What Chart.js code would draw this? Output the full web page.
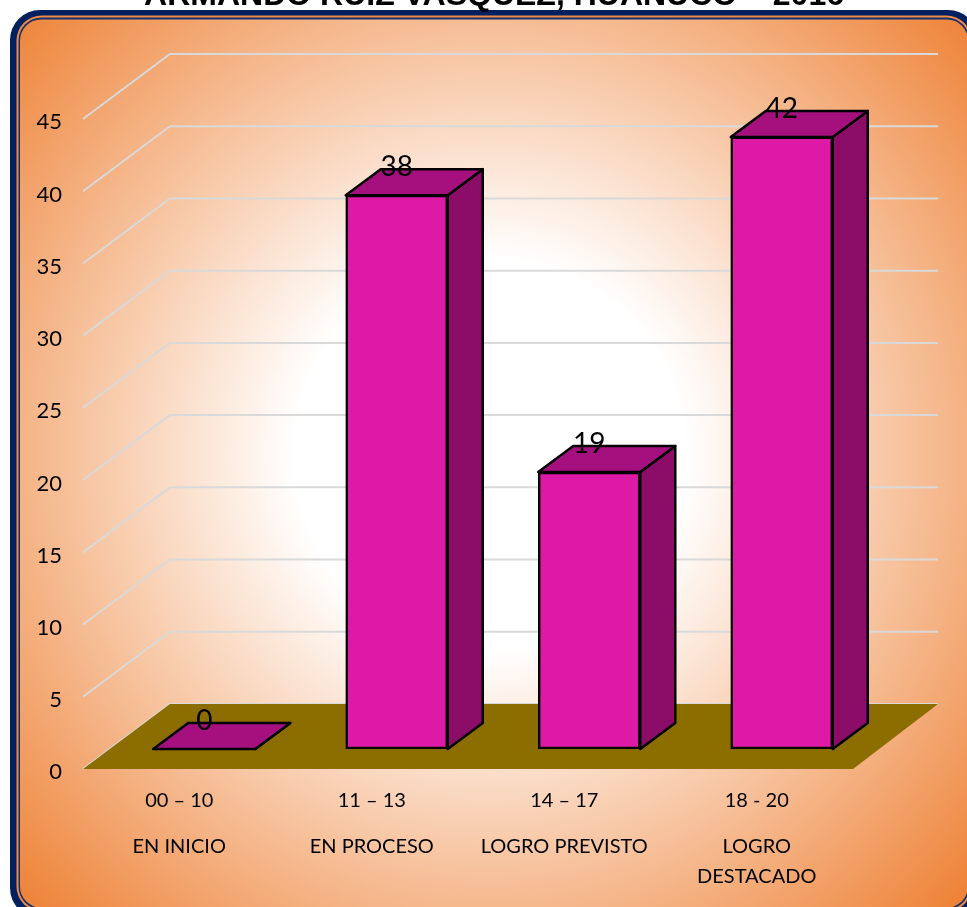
<!DOCTYPE html>
<html lang="es">
<head>
<meta charset="utf-8">
<title>Chart</title>
<script src="https://cdn.jsdelivr.net/npm/chart.js@4/dist/chart.umd.min.js"></script>
<style>
  html, body { margin: 0; padding: 0; background: #fff; overflow: hidden; }
  canvas { display: block; }
</style>
</head>
<body>
<canvas id="chart" width="967" height="907"></canvas>
<script>
const titleText = 'ARMANDO RUIZ VASQUEZ, HUANUCO – 2016';
const rangeLabels = ['00 – 10', '11 – 13', '14 – 17', '18 - 20'];
const statusLabels = ['EN INICIO', 'EN PROCESO', 'LOGRO PREVISTO', ['LOGRO', 'DESTACADO']];
const values = [0, 38, 19, 42];

// 3D look: offsets of the back wall and of the bars inside the box
const WALL_DX = 87, WALL_DY = 65;
const BAR_SHIFT_X = 25, BAR_SHIFT_Y = 20;
const BAR_DX = 35, BAR_DY = 26;
const LABEL_FONT = 'Lato, "Open Sans", sans-serif';

function box(ctx, x, y, w, h, r, fill) {
  ctx.beginPath();
  ctx.roundRect(x, y, w, h, r);
  ctx.fillStyle = fill;
  ctx.fill();
}

function poly(ctx, pts, fill, stroke) {
  ctx.beginPath();
  pts.forEach((p, i) => i ? ctx.lineTo(p[0], p[1]) : ctx.moveTo(p[0], p[1]));
  ctx.closePath();
  ctx.fillStyle = fill;
  ctx.fill();
  if (stroke) {
    ctx.strokeStyle = stroke;
    ctx.lineWidth = 2.5;
    ctx.lineJoin = 'round';
    ctx.stroke();
  }
}

const frame3d = {
  id: 'frame3d',
  beforeDraw(chart) {
    const ctx = chart.ctx;
    ctx.save();
    box(ctx, 10, 10, 968, 908, 30, '#002060');
    box(ctx, 16.5, 15.5, 955, 896, 25, '#EE8A45');
    box(ctx, 18.5, 17.5, 951, 892, 23, '#12306E');
    const g = ctx.createRadialGradient(490, 455, 0, 490, 455, 650);
    g.addColorStop(0, '#ffffff');
    g.addColorStop(0.3, '#ffffff');
    g.addColorStop(1, '#EE8236');
    box(ctx, 20, 19.5, 948, 888, 21, g);
    // title sits right of the page centre and is cut by the top edge
    ctx.fillStyle = '#000';
    ctx.font = 'bold 32px "Liberation Sans", Arial, sans-serif';
    ctx.textAlign = 'center';
    ctx.textBaseline = 'alphabetic';
    ctx.fillText(titleText, 494, 5);
    ctx.restore();
  },
  beforeDatasetsDraw(chart) {
    const ctx = chart.ctx, y = chart.scales.y, area = chart.chartArea;
    const y0 = y.getPixelForValue(0);
    ctx.save();
    // gridlines on the side wall and the back wall
    ctx.strokeStyle = '#D9D9D9';
    ctx.lineWidth = 2;
    y.ticks.forEach(t => {
      const py = y.getPixelForValue(t.value);
      ctx.beginPath();
      ctx.moveTo(area.left, py);
      ctx.lineTo(area.left + WALL_DX, py - WALL_DY);
      ctx.lineTo(area.right + WALL_DX - 2, py - WALL_DY);
      ctx.stroke();
    });
    // floor
    poly(ctx, [
      [area.left, y0],
      [area.left + WALL_DX, y0 - WALL_DY],
      [area.right + WALL_DX - 2, y0 - WALL_DY],
      [area.right, y0]
    ], '#8B6D00');
    ctx.restore();

    // bars are painted shifted into the box, side and top faces first
    ctx.save();
    ctx.translate(BAR_SHIFT_X, -BAR_SHIFT_Y);
    chart.getDatasetMeta(0).data.forEach(bar => {
      const l = bar.x - bar.width / 2, r = bar.x + bar.width / 2;
      poly(ctx, [[r, bar.y], [r + BAR_DX, bar.y - BAR_DY], [r + BAR_DX, bar.base - BAR_DY], [r, bar.base]], '#8B0D68', '#000');
      poly(ctx, [[l, bar.y], [l + BAR_DX, bar.y - BAR_DY], [r + BAR_DX, bar.y - BAR_DY], [r, bar.y]], '#A5107E', '#000');
    });
  },
  afterDatasetsDraw(chart) {
    const ctx = chart.ctx;
    chart.getDatasetMeta(0).data.forEach((bar, i) => {
      ctx.fillStyle = '#000';
      ctx.font = '28px ' + LABEL_FONT;
      ctx.textAlign = 'center';
      ctx.textBaseline = 'middle';
      ctx.fillText(values[i], bar.x, bar.y - 28);
    });
    ctx.restore();
  }
};

new Chart(document.getElementById('chart'), {
  type: 'bar',
  data: {
    labels: rangeLabels,
    datasets: [{
      data: values,
      yAxisID: 'y1',
      backgroundColor: '#DE19A6',
      borderColor: '#000',
      borderWidth: 2.5,
      borderSkipped: false,
      barThickness: 102,
      clip: false
    }]
  },
  plugins: [frame3d],
  options: {
    responsive: false,
    animation: false,
    devicePixelRatio: 1,
    layout: { padding: { top: 119, right: 114, left: 0, bottom: 0 } },
    plugins: {
      legend: { display: false },
      tooltip: { enabled: false },
      title: { display: false }
    },
    scales: {
      x: {
        position: 'bottom',
        grid: { display: false },
        border: { display: false },
        ticks: {
          color: '#000',
          font: { family: LABEL_FONT, size: 20 },
          padding: 12,
          maxRotation: 0,
          autoSkip: false
        },
        afterFit(scale) { scale.height = 53; }
      },
      x2: {
        type: 'category',
        labels: statusLabels,
        position: 'bottom',
        grid: { display: false },
        border: { display: false },
        ticks: {
          color: '#000',
          font: { family: LABEL_FONT, size: 20, lineHeight: 1.5 },
          padding: 2,
          maxRotation: 0,
          autoSkip: false
        },
        afterFit(scale) { scale.height = 85; }
      },
      y: {
        min: 0,
        max: 45,
        grid: { display: false },
        border: { display: false },
        ticks: {
          stepSize: 5,
          color: '#000',
          font: { family: LABEL_FONT, size: 22, lineHeight: 0.3 },
          padding: 13,
          // empty first line nudges the number down to where the original has it
          callback: v => ['', String(v)]
        },
        afterFit(scale) { scale.width = 83; }
      },
      // bars run on a slightly taller scale than the wall, as in the original
      y1: {
        display: false,
        min: 0,
        max: 44.6
      }
    }
  }
});
</script>
</body>
</html>
